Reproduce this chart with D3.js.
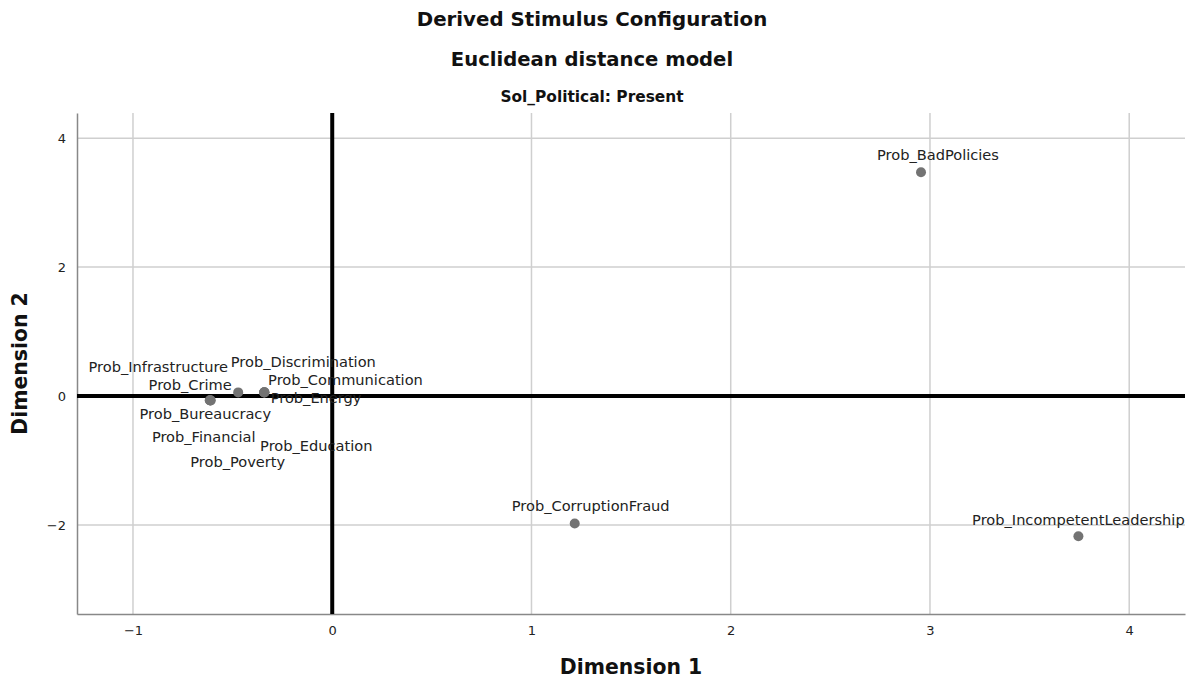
<!DOCTYPE html>
<html>
<head>
<meta charset="utf-8">
<script src="https://cdn.jsdelivr.net/npm/d3@7"></script>
<style>
  html, body { margin: 0; padding: 0; background: #fff; }
  svg { display: block; font-family: "DejaVu Sans", Verdana, sans-serif; }
</style>
</head>
<body>
<svg id="chart" width="1191" height="686"></svg>
<script>
// Stimulus coordinates (Euclidean distance model, 2 dimensions)
const stimuli = [
  "Prob_BadPolicies", "Prob_CorruptionFraud", "Prob_IncompetentLeadership",
  "Prob_Infrastructure", "Prob_Bureaucracy", "Prob_Financial", "Prob_Poverty",
  "Prob_Crime",
  "Prob_Discrimination", "Prob_Communication", "Prob_Energy", "Prob_Education"
];
const dim1 = [2.955, 1.217, 3.745, -0.612, -0.612, -0.615, -0.610, -0.472, -0.341, -0.340, -0.342, -0.341];
const dim2 = [3.470, -1.977, -2.173, -0.066, -0.068, -0.064, -0.067, 0.057, 0.058, 0.057, 0.056, 0.058];

// Label placement (pixel offsets of label centre / baseline from its point)
const labelDx = [17, 16, 0, -52, -5, -6, 27, -48, 39, 81, 52, 52];
const labelDy = [-12, -13, -11, -28, 19, 42, 67, -2, -25, -7, 11, 59];

const xTicks = [-1, 0, 1, 2, 3, 4];
const yTicks = [-2, 0, 2, 4];

const titleLines = ["Derived Stimulus Configuration", "Euclidean distance model"];
const subTitle = "Sol_Political: Present";
const xTitle = "Dimension 1";
const yTitle = "Dimension 2";

const svg = d3.select("#chart");
const plot = { left: 77, right: 1185, top: 113, bottom: 614 };

const x = d3.scaleLinear().domain([-1.281, 4.28]).range([plot.left, plot.right]);
const y = d3.scaleLinear().domain([-3.38, 4.39]).range([plot.bottom, plot.top]);

// Titles
svg.append("text").attr("x", 592).attr("y", 26).attr("text-anchor", "middle")
  .style("font-size", "19.8px").style("font-weight", "bold").attr("fill", "#111").text(titleLines[0]);
svg.append("text").attr("x", 592).attr("y", 66).attr("text-anchor", "middle")
  .style("font-size", "19.6px").style("font-weight", "bold").attr("fill", "#111").text(titleLines[1]);
svg.append("text").attr("x", 592).attr("y", 102).attr("text-anchor", "middle")
  .style("font-size", "15.4px").style("font-weight", "bold").attr("fill", "#111").text(subTitle);

// Gridlines
const grid = svg.append("g");
grid.selectAll("line.vx").data(xTicks).join("line")
  .attr("x1", d => x(d)).attr("x2", d => x(d))
  .attr("y1", plot.top).attr("y2", plot.bottom)
  .attr("stroke", "#cfcfcf").attr("stroke-width", 1.5);
grid.selectAll("line.hy").data(yTicks).join("line")
  .attr("x1", plot.left).attr("x2", plot.right)
  .attr("y1", d => y(d)).attr("y2", d => y(d))
  .attr("stroke", "#cfcfcf").attr("stroke-width", 1.5);

// Axes (lines + labels, no tick marks)
const xAxis = d3.axisBottom(x).tickValues(xTicks).tickSize(0).tickPadding(12)
  .tickFormat(d => d < 0 ? "\u2212" + Math.abs(d) : d);
const gx = svg.append("g").attr("transform", `translate(0,${plot.bottom})`).call(xAxis);
gx.select(".domain").attr("stroke", "#888").attr("stroke-width", 1.5);
gx.selectAll("text").style("font-size", "13px").attr("fill", "#222")
  .style("font-family", "DejaVu Sans, sans-serif");

const yAxis = d3.axisLeft(y).tickValues(yTicks).tickSize(0).tickPadding(11)
  .tickFormat(d => d < 0 ? "\u2212" + Math.abs(d) : d);
const gy = svg.append("g").attr("transform", `translate(${plot.left},0)`).call(yAxis);
gy.select(".domain").attr("stroke", "#888").attr("stroke-width", 1.5);
gy.selectAll("text").style("font-size", "13px").attr("fill", "#222")
  .style("font-family", "DejaVu Sans, sans-serif");

// Reference lines through the origin
svg.append("line").attr("x1", plot.left).attr("x2", plot.right)
  .attr("y1", y(0)).attr("y2", y(0)).attr("stroke", "#000").attr("stroke-width", 4);
svg.append("line").attr("x1", x(0)).attr("x2", x(0))
  .attr("y1", plot.top).attr("y2", plot.bottom).attr("stroke", "#000").attr("stroke-width", 4);

// Axis titles
svg.append("text").attr("x", (plot.left + plot.right) / 2).attr("y", 674)
  .attr("text-anchor", "middle").style("font-size", "20.4px").style("font-weight", "bold")
  .attr("fill", "#111").text(xTitle);
svg.append("text").attr("transform", `translate(27,${(plot.top + plot.bottom) / 2}) rotate(-90)`)
  .attr("text-anchor", "middle").style("font-size", "20.4px").style("font-weight", "bold")
  .attr("fill", "#111").text(yTitle);

// Points and labels
const pts = stimuli.map((name, i) => ({ name, d1: dim1[i], d2: dim2[i], dx: labelDx[i], dy: labelDy[i] }));
const gp = svg.append("g");
gp.selectAll("circle").data(pts).join("circle")
  .attr("cx", d => x(d.d1)).attr("cy", d => y(d.d2)).attr("r", 5)
  .attr("fill", "#737373");
gp.selectAll("text").data(pts).join("text")
  .attr("x", d => x(d.d1) + d.dx).attr("y", d => y(d.d2) + d.dy)
  .attr("text-anchor", "middle").style("font-size", "14.6px").attr("fill", "#222")
  .text(d => d.name);
</script>
</body>
</html>
